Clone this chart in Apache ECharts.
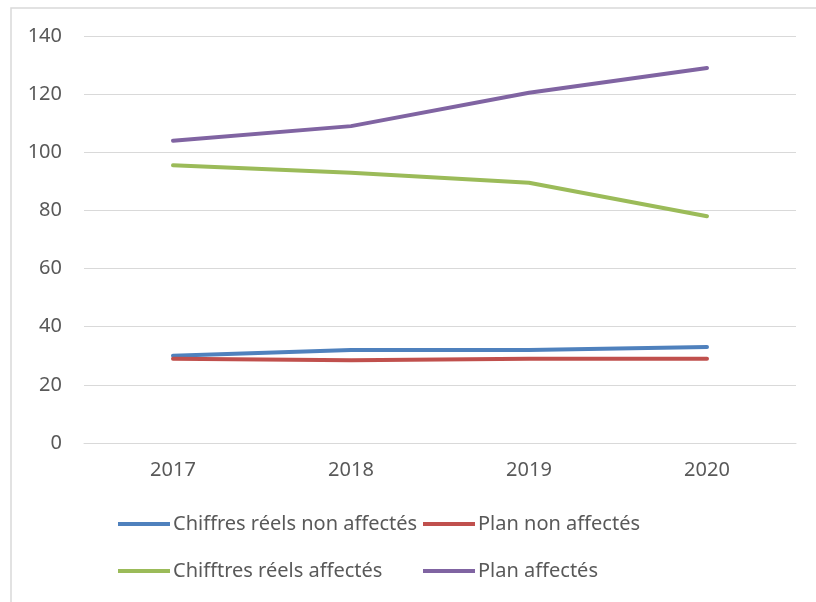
<!DOCTYPE html>
<html>
<head>
<meta charset="utf-8">
<script src="https://cdn.jsdelivr.net/npm/echarts@6/dist/echarts.min.js"></script>
<style>
  html, body { margin: 0; padding: 0; background: #ffffff; }
  #chart { width: 816px; height: 602px; }
</style>
</head>
<body>
<div id="chart"></div>
<script>
// Years on the category axis
const years = ['2017', '2018', '2019', '2020'];

// Series values
const reelsNonAffectes = [30, 32, 32, 33];
const planNonAffectes = [29, 28.5, 29, 29];
const reelsAffectes = [95.5, 93, 89.5, 78];
const planAffectes = [104, 109, 120.5, 129];

// Value axis range
const yMin = 0;
const yMax = 140;
const yStep = 20;

const seriesNames = [
  'Chiffres réels non affectés',
  'Plan non affectés',
  'Chifftres réels affectés',
  'Plan affectés'
];
const seriesColors = ['#4f81bd', '#c0504d', '#9bbb59', '#8064a2'];
const seriesData = [reelsNonAffectes, planNonAffectes, reelsAffectes, planAffectes];

const fontFamily = '"Noto Sans", "Open Sans", sans-serif';
const textColor = '#595959';
const gridColor = '#d9d9d9';

const legendSlots = [
  { left: 118, top: 512 },
  { left: 423, top: 512 },
  { left: 118, top: 559 },
  { left: 423, top: 559 }
];

const chart = echarts.init(document.getElementById('chart'), null, { renderer: 'canvas' });

chart.setOption({
  animation: false,
  backgroundColor: '#ffffff',
  graphic: [{
    type: 'polyline',
    shape: { points: [[11, 602], [11, 8], [816, 8]] },
    style: { stroke: gridColor, lineWidth: 1.5, fill: null },
    silent: true
  }],
  grid: { left: 84, right: 20, top: 36, bottom: 159, containLabel: false },
  legend: seriesNames.map((name, i) => ({
    data: [name],
    left: legendSlots[i].left,
    top: legendSlots[i].top,
    icon: 'rect',
    itemWidth: 52,
    itemHeight: 4,
    itemGap: 0,
    padding: 0,
    textStyle: { color: textColor, fontSize: 20, lineHeight: 24, fontFamily: fontFamily, padding: [0, 0, 0, -2] }
  })),
  xAxis: {
    type: 'category',
    data: years,
    boundaryGap: true,
    axisLine: { show: true, lineStyle: { color: gridColor, width: 1 } },
    axisTick: { show: false },
    axisLabel: { color: textColor, fontSize: 20, fontFamily: fontFamily, margin: 17 }
  },
  yAxis: {
    type: 'value',
    min: yMin,
    max: yMax,
    interval: yStep,
    axisLine: { show: false },
    axisTick: { show: false },
    axisLabel: { color: textColor, fontSize: 20, fontFamily: fontFamily, margin: 22 },
    splitLine: { show: true, lineStyle: { color: gridColor, width: 1 } }
  },
  series: seriesNames.map((name, i) => ({
    name: name,
    type: 'line',
    data: seriesData[i],
    showSymbol: false,
    symbol: 'none',
    lineStyle: { color: seriesColors[i], width: 4, cap: 'round', join: 'round' },
    itemStyle: { color: seriesColors[i] }
  }))
});
</script>
</body>
</html>
